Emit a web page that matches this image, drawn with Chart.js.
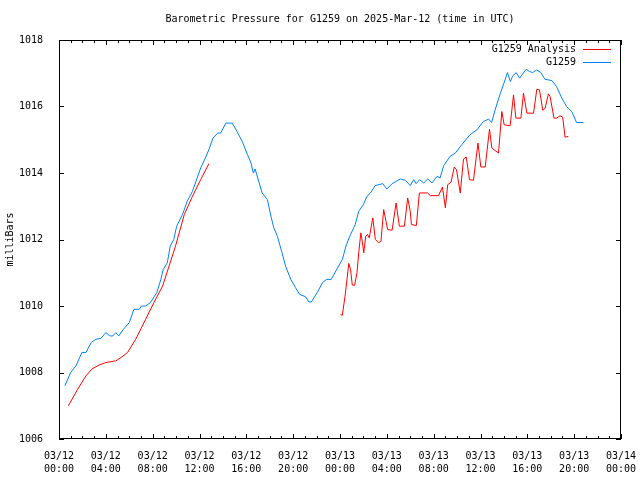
<!DOCTYPE html>
<html>
<head>
<meta charset="utf-8">
<script src="https://cdn.jsdelivr.net/npm/chart.js@4.4.1/dist/chart.umd.min.js"></script>
<style>
  html, body { margin: 0; padding: 0; background: #fff; }
  #wrap { width: 640px; height: 480px; }
</style>
</head>
<body>
<div id="wrap"><canvas id="chart" width="640" height="480"></canvas></div>
<script>
// hours since 03/12 00:00 UTC
const stationHours = [0.5, 1.0, 1.45, 1.95, 2.3, 2.75, 3.15, 3.6, 4.0, 4.35, 4.6, 4.85, 5.1, 5.5, 6.0, 6.4, 6.85, 7.05, 7.4, 7.8, 8.35, 8.7, 8.9, 9.25, 9.5, 9.8, 10.05, 10.55, 10.95, 11.4, 11.8, 12.1, 12.5, 12.8, 13.15, 13.55, 13.8, 14.25, 14.8, 15.2, 15.65, 16.1, 16.4, 16.6, 16.75, 17.1, 17.35, 17.8, 18.1, 18.35, 18.65, 19.05, 19.35, 19.8, 20.2, 20.55, 21.05, 21.35, 21.55, 22.05, 22.5, 22.85, 23.25, 23.75, 24.2, 24.55, 24.9, 25.3, 25.6, 26.0, 26.3, 26.6, 27.0, 27.65, 28.0, 28.45, 29.15, 29.6, 30.0, 30.3, 30.5, 30.8, 31.15, 31.5, 31.85, 32.3, 32.55, 32.85, 33.4, 33.85, 34.4, 35.1, 35.7, 36.25, 36.7, 36.95, 37.25, 37.7, 38.0, 38.3, 38.55, 38.75, 39.05, 39.35, 39.6, 39.9, 40.2, 40.45, 40.8, 41.15, 41.5, 42.1, 42.5, 42.95, 43.35, 43.8, 44.2, 44.8];
const stationValues = [1007.6, 1008.0, 1008.2, 1008.6, 1008.6, 1008.9, 1009.0, 1009.03, 1009.2, 1009.1, 1009.1, 1009.2, 1009.1, 1009.3, 1009.5, 1009.9, 1009.9, 1010.0, 1010.0, 1010.1, 1010.4, 1010.8, 1011.1, 1011.3, 1011.8, 1012.0, 1012.4, 1012.75, 1013.15, 1013.45, 1013.85, 1014.15, 1014.45, 1014.7, 1015.05, 1015.2, 1015.2, 1015.5, 1015.5, 1015.25, 1014.95, 1014.55, 1014.3, 1014.0, 1014.12, 1013.7, 1013.4, 1013.2, 1012.7, 1012.35, 1012.1, 1011.6, 1011.2, 1010.8, 1010.55, 1010.35, 1010.28, 1010.12, 1010.12, 1010.4, 1010.7, 1010.8, 1010.8, 1011.12, 1011.4, 1011.85, 1012.15, 1012.45, 1012.85, 1013.05, 1013.3, 1013.4, 1013.62, 1013.68, 1013.52, 1013.68, 1013.82, 1013.78, 1013.62, 1013.8, 1013.68, 1013.8, 1013.7, 1013.82, 1013.7, 1013.9, 1013.85, 1014.22, 1014.5, 1014.6, 1014.85, 1015.15, 1015.3, 1015.55, 1015.62, 1015.52, 1015.9, 1016.4, 1016.7, 1017.02, 1016.75, 1016.92, 1017.02, 1016.85, 1016.98, 1017.12, 1017.05, 1017.02, 1017.1, 1017.02, 1016.82, 1016.78, 1016.6, 1016.25, 1016.0, 1015.85, 1015.52, 1015.52];

// analysis: two runs, null marks the gap
const analysisHours = [0.8, 1.6, 2.3, 2.8, 3.45, 4.0, 4.85, 5.3, 5.85, 6.55, 7.4, 8.1, 8.85, 9.4, 9.95, 10.7, 11.4, 12.1, 12.8, 18.0, 24.05, 24.2, 24.45, 24.75, 24.9, 25.05, 25.25, 25.45, 25.6, 25.78, 25.9, 26.03, 26.2, 26.35, 26.5, 26.8, 27.02, 27.3, 27.5, 27.73, 28.07, 28.45, 28.79, 29.07, 29.5, 29.78, 30.0, 30.1, 30.52, 30.78, 31.48, 31.71, 32.42, 32.75, 33.0, 33.2, 33.48, 33.76, 33.95, 34.27, 34.55, 34.78, 35.06, 35.4, 35.78, 36.03, 36.4, 36.77, 36.97, 37.54, 37.82, 38.02, 38.53, 38.82, 39.02, 39.45, 39.67, 39.96, 40.53, 40.81, 41.04, 41.32, 41.52, 41.8, 41.94, 42.28, 42.5, 42.79, 43.02, 43.22, 43.5];
const analysisValues = [1007.0, 1007.5, 1007.9, 1008.1, 1008.23, 1008.3, 1008.35, 1008.45, 1008.6, 1009.0, 1009.6, 1010.1, 1010.6, 1011.2, 1011.8, 1012.75, 1013.3, 1013.8, 1014.28, null, 1009.74, 1009.72, 1010.35, 1011.28, 1011.1, 1010.63, 1010.62, 1011.0, 1011.6, 1012.2, 1011.95, 1011.6, 1012.1, 1012.15, 1012.05, 1012.65, 1012.0, 1011.9, 1011.95, 1012.9, 1012.3, 1012.28, 1013.1, 1012.4, 1012.4, 1013.25, 1012.85, 1012.45, 1012.42, 1013.4, 1013.4, 1013.32, 1013.32, 1013.58, 1012.95, 1013.65, 1013.72, 1014.18, 1014.1, 1013.4, 1014.42, 1014.48, 1013.8, 1013.78, 1014.9, 1014.18, 1014.18, 1015.32, 1014.75, 1014.6, 1015.85, 1015.45, 1015.42, 1016.35, 1015.65, 1015.65, 1016.4, 1015.8, 1015.8, 1016.52, 1016.5, 1015.88, 1015.95, 1016.38, 1016.3, 1015.65, 1015.65, 1015.72, 1015.68, 1015.08, 1015.1];

const xTickLabels = [
  ['03/12', '00:00'], ['03/12', '04:00'], ['03/12', '08:00'], ['03/12', '12:00'],
  ['03/12', '16:00'], ['03/12', '20:00'], ['03/13', '00:00'], ['03/13', '04:00'],
  ['03/13', '08:00'], ['03/13', '12:00'], ['03/13', '16:00'], ['03/13', '20:00'],
  ['03/14', '00:00']
];
const legendNames = ['G1259 Analysis', 'G1259'];
const lineColors = ['#ff0000', '#0080ff'];

const mono = 'DejaVu Sans Mono';

function points(xs, ys) {
  return xs.map((x, i) => ({x: x, y: ys[i]}));
}

// gnuplot style frame: border plus inward ticks, and the key in the top right
const framePlugin = {
  id: 'frame',
  afterDraw(chart) {
    const ctx = chart.ctx;
    const a = chart.chartArea;
    const xs = chart.scales.x, ys = chart.scales.y;
    ctx.save();
    ctx.strokeStyle = '#000';
    ctx.lineWidth = 1;
    ctx.strokeRect(a.left + 0.5, a.top + 0.5, a.right - a.left - 1, a.bottom - a.top - 1);
    ctx.beginPath();
    for (let h = 0; h <= 48; h++) {
      const px = Math.round(xs.getPixelForValue(h)) + 0.5;
      const len = h % 4 === 0 ? 5 : 3;
      ctx.moveTo(px, a.bottom); ctx.lineTo(px, a.bottom - len);
      ctx.moveTo(px, a.top); ctx.lineTo(px, a.top + len);
    }
    for (let v = 1006; v <= 1018; v += 2) {
      const py = Math.round(ys.getPixelForValue(v)) + 0.5;
      ctx.moveTo(a.left, py); ctx.lineTo(a.left + 5, py);
      ctx.moveTo(a.right, py); ctx.lineTo(a.right - 5, py);
    }
    ctx.stroke();

    ctx.font = '10px "' + mono + '"';
    ctx.textAlign = 'right';
    ctx.textBaseline = 'middle';
    legendNames.forEach((name, i) => {
      const y = 49 + i * 13;
      ctx.fillStyle = '#000';
      ctx.fillText(name, 576, y);
      ctx.strokeStyle = lineColors[i];
      ctx.beginPath();
      ctx.moveTo(583, y + 0.5);
      ctx.lineTo(611, y + 0.5);
      ctx.stroke();
    });

    ctx.fillStyle = '#000';
    ctx.textAlign = 'center';
    ctx.fillText('Barometric Pressure for G1259 on 2025-Mar-12 (time in UTC)', (a.left + a.right) / 2, 19);
    ctx.restore();
  }
};

new Chart(document.getElementById('chart'), {
  type: 'line',
  data: {
    datasets: [
      {
        label: legendNames[0],
        data: points(analysisHours, analysisValues),
        borderColor: lineColors[0],
        borderWidth: 1,
        pointRadius: 0,
        tension: 0,
        spanGaps: false
      },
      {
        label: legendNames[1],
        data: points(stationHours, stationValues),
        borderColor: lineColors[1],
        borderWidth: 1,
        pointRadius: 0,
        tension: 0
      }
    ]
  },
  options: {
    responsive: false,
    animation: false,
    events: [],
    layout: {padding: {top: 40, right: 19, left: 0, bottom: 0}},
    plugins: {
      legend: {display: false},
      title: {display: false},
      tooltip: {enabled: false}
    },
    scales: {
      x: {
        type: 'linear',
        min: 0,
        max: 48,
        grid: {display: false},
        border: {display: false},
        afterFit: s => { s.height = 41; },
        afterBuildTicks: s => { s.ticks = xTickLabels.map((l, i) => ({value: i * 4})); },
        ticks: {
          autoSkip: false,
          maxRotation: 0,
          padding: 3,
          color: '#000',
          font: {family: mono, size: 10, lineHeight: 1.3},
          callback: (v, i) => xTickLabels[i]
        }
      },
      y: {
        min: 1006,
        max: 1018,
        grid: {display: false},
        border: {display: false},
        afterFit: s => { s.width = 59; },
        ticks: {
          stepSize: 2,
          padding: 8,
          color: '#000',
          font: {family: mono, size: 10},
          callback: v => String(v)
        },
        title: {
          display: true,
          text: 'milliBars',
          color: '#000',
          padding: {top: 4, bottom: 0},
          font: {family: mono, size: 10}
        }
      }
    }
  },
  plugins: [framePlugin]
});
</script>
</body>
</html>
